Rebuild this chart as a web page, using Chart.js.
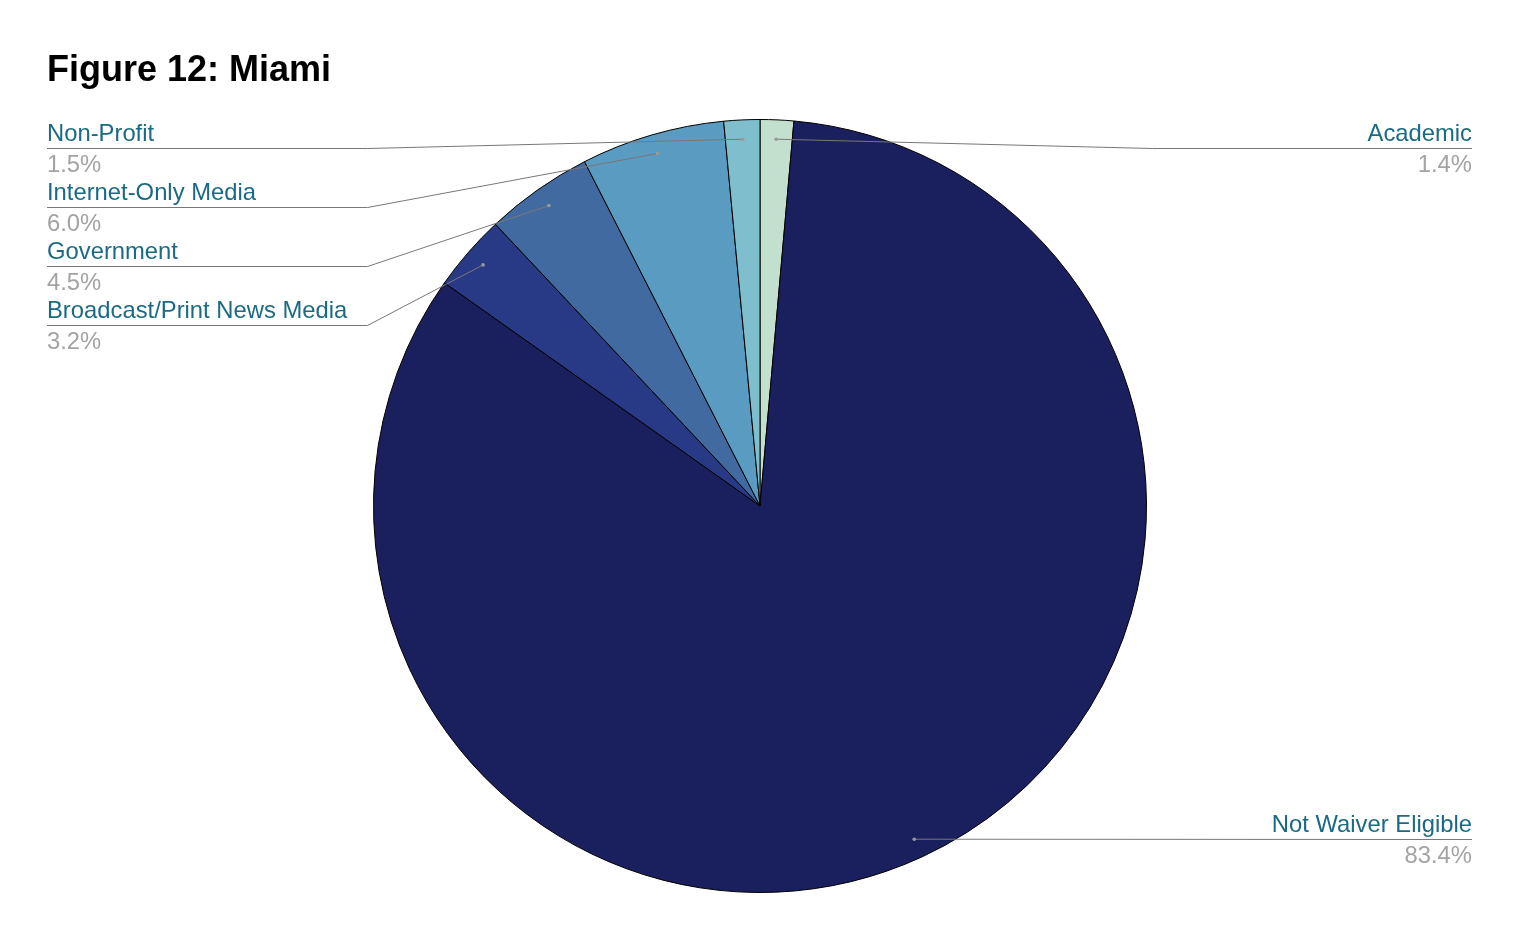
<!DOCTYPE html>
<html>
<head>
<meta charset="utf-8">
<script src="https://cdn.jsdelivr.net/npm/chart.js@4"></script>
<style>
  html, body { margin: 0; padding: 0; background: #fff; }
  #wrap { width: 1519px; height: 940px; }
</style>
</head>
<body>
<div id="wrap"><canvas id="pieChart" width="1519" height="940"></canvas></div>
<script>
const titleText = 'Figure 12: Miami';
const categories = ['Academic', 'Not Waiver Eligible', 'Broadcast/Print News Media', 'Government', 'Internet-Only Media', 'Non-Profit'];
const shares = [1.4, 83.4, 3.2, 4.5, 6.0, 1.5];
const sliceColors = ['#c3dfcd', '#1a1f5e', '#283a85', '#416ba0', '#5a9bc1', '#7fbfcd'];

// draws the title plus the leader-line labels
const calloutPlugin = {
    id: 'callouts',
    afterDraw(chart) {
        const ctx = chart.ctx;
        const arcs = chart.getDatasetMeta(0).data;
        const font = '23.8px "Liberation Sans", Arial, sans-serif';
        const leftX = 47, rightX = 1472, minY = 148, rowGap = 59;

        ctx.save();
        ctx.fillStyle = '#000';
        ctx.font = 'bold 36px "Liberation Sans", Arial, sans-serif';
        ctx.textBaseline = 'alphabetic';
        ctx.textAlign = 'left';
        ctx.fillText(titleText, 47, 81);

        const items = arcs.map((arc, i) => {
            const p = arc.getProps(['x', 'y', 'startAngle', 'endAngle', 'outerRadius']);
            const mid = (p.startAngle + p.endAngle) / 2;
            const r = p.outerRadius * 0.95;
            return {
                i,
                cx: p.x,
                r: p.outerRadius,
                ax: p.x + Math.cos(mid) * r,
                ay: p.y + Math.sin(mid) * r
            };
        });

        ['left', 'right'].forEach(side => {
            const list = items.filter(it => (side === 'left') === (it.ax < it.cx))
                .sort((a, b) => a.ay - b.ay);
            let prev = -Infinity;
            list.forEach(it => {
                const y = Math.round(Math.max(it.ay, minY, prev + rowGap));
                prev = y;
                const elbowX = side === 'left' ? it.cx - it.r - 6 : it.cx + it.r + 6;
                const endX = side === 'left' ? leftX : rightX;

                ctx.strokeStyle = '#777';
                ctx.lineWidth = 1;
                ctx.beginPath();
                ctx.moveTo(it.ax, it.ay);
                if (Math.abs(it.ay - y) > 1) ctx.lineTo(elbowX, y + 0.5);
                ctx.lineTo(endX, y + 0.5);
                ctx.stroke();

                ctx.fillStyle = '#9a9a9a';
                ctx.beginPath();
                ctx.arc(it.ax, it.ay, 1.8, 0, Math.PI * 2);
                ctx.fill();

                ctx.font = font;
                ctx.textAlign = side === 'left' ? 'left' : 'right';
                ctx.fillStyle = '#1b6a84';
                ctx.fillText(categories[it.i], endX, y - 7);
                ctx.fillStyle = '#a3a3a3';
                ctx.fillText(shares[it.i].toFixed(1) + '%', endX, y + 24);
            });
        });
        ctx.restore();
    }
};

new Chart(document.getElementById('pieChart'), {
    type: 'pie',
    data: {
        labels: categories,
        datasets: [{
            data: shares,
            backgroundColor: sliceColors,
            borderColor: '#000',
            borderWidth: 1
        }]
    },
    options: {
        responsive: false,
        animation: false,
        events: [],
        layout: { padding: { top: 119, bottom: 47, left: 372, right: 371 } },
        plugins: {
            legend: { display: false },
            tooltip: { enabled: false },
            title: { display: false }
        }
    },
    plugins: [calloutPlugin]
});
</script>
</body>
</html>
